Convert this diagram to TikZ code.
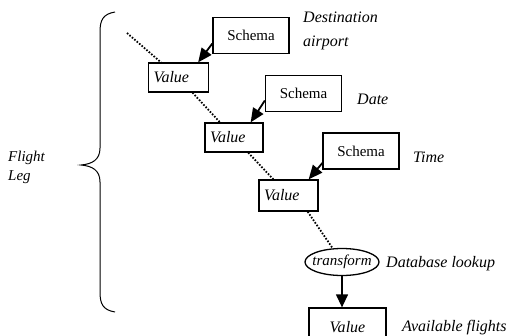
\documentclass[tikz,border=0pt]{standalone}
\usepackage{fontspec}
\setmainfont{Liberation Serif}
\usetikzlibrary{arrows.meta,calc,shapes.geometric}
\begin{document}
\begin{tikzpicture}[x=1pt,y=-1pt,
  schemabox/.style={draw,line width=1.3pt,minimum width=76pt,minimum height=36pt,inner sep=0pt,font=\fontsize{15}{17}\selectfont},
  valbox/.style={draw,line width=1.3pt,inner xsep=5pt,inner ysep=0pt,align=left,font=\fontsize{16}{18}\selectfont\itshape},
  lbl/.style={anchor=west,inner sep=0pt,align=left,font=\fontsize{16}{24}\selectfont\itshape},
  sarrow/.style={line width=1.8pt,-{Triangle[length=14pt,width=12pt]}},
  dots/.style={line width=1.8pt,dash pattern=on 1.6pt off 1.6pt}]
\useasboundingbox (0,0) rectangle (510,335);
\clip (0,0) rectangle (510,335);
% boxes
\node[schemabox] (s1) at (251,35.5) {Schema};
\node[valbox,text width=50pt,minimum height=29pt] (v1) at (178.5,77.5) {Value};
\node[schemabox] (s2) at (303.5,93.5) {Schema};
\node[valbox,text width=48pt,minimum height=29pt] (v2) at (234,137.5) {Value};
\node[schemabox] (s3) at (361,151) {Schema};
\node[valbox,text width=49pt,minimum height=31pt] (v3) at (288.5,195.5) {Value};
\node[ellipse,draw,line width=1.3pt,minimum width=74pt,minimum height=27pt,inner xsep=-4pt,inner ysep=0pt,font=\fontsize{15}{17}\selectfont\itshape] (e) at (342,262) {transform};
\node[draw,line width=1.3pt,minimum width=77pt,minimum height=38pt,inner sep=0pt,font=\fontsize{16}{18}\selectfont\itshape] (v4) at (347.5,327) {Value};
% labels
\node[lbl] (l1) at (303,31) {Destination\\airport};
\node[lbl] (l2) at (357,99) {Date};
\node[lbl] (l3) at (413,157) {Time};
\node[lbl] (l4) at (386,264) {Database lookup};
\node[lbl] (l5) at (402,328) {Available flights};
\node[lbl,font=\fontsize{15}{19}\selectfont\itshape] (fl) at (8,167) {Flight\\Leg};
% brace
\coordinate (bt) at (115,12);
\coordinate (bm) at (81,165);
\coordinate (bb) at (115,312);
\draw[line width=1pt] (bt) .. controls (103,14) and (100,20) .. (100,32) -- (100,148) .. controls (100,160) and (92,164) .. (bm)
  .. controls (92,166) and (100,170) .. (100,182) -- (100,292) .. controls (100,304) and (103,310) .. (bb);
% dotted chain
\coordinate (st) at (127,33);
\draw[dots] (st) -- (v1);
\draw[dots] (v1) -- (v2);
\draw[dots] (v2) -- (v3);
\draw[dots] ($(v3.south east)+(-11,0)$) -- (e);
% schema arrows
\draw[sarrow] ($(s1.west)+(0,8)$) -- ($(v1.north east)+(-11,0)$);
\draw[sarrow] ($(s2.west)+(0,7)$) -- ($(v2.north east)+(-13,0)$);
\draw[sarrow] ($(s3.west)+(0,12)$) -- ($(v3.north east)+(-10,0)$);
\draw[line width=1.3pt,-{Triangle[length=13pt,width=12pt]}] (e.south) -- (e.south |- v4.north);
\end{tikzpicture}
\end{document}
